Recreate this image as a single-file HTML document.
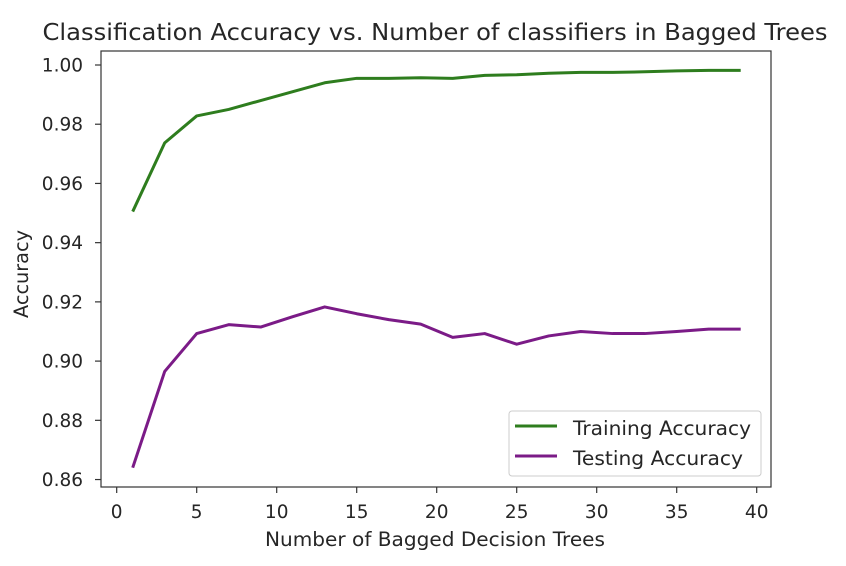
<!DOCTYPE html>
<html><head><meta charset="utf-8"><style>
html,body{margin:0;padding:0;background:#fff;}
svg{display:block;font-family:"DejaVu Sans","Liberation Sans",sans-serif;}
</style></head><body>
<svg id="chart" width="846" height="566" viewBox="0 0 846 566" xmlns="http://www.w3.org/2000/svg">
<text x="435" y="40" font-size="23" fill="#262626" text-anchor="middle" textLength="785" lengthAdjust="spacingAndGlyphs">Classification Accuracy vs. Number of classifiers in Bagged Trees</text>
<g id="marks"></g>
<rect x="101" y="51" width="670" height="436" fill="none" stroke="#333" stroke-width="1.2"/>
<g id="axes"></g>
<text x="435" y="546" font-size="19.5" fill="#262626" text-anchor="middle" textLength="340" lengthAdjust="spacingAndGlyphs">Number of Bagged Decision Trees</text>
<text transform="translate(28,274) rotate(-90)" font-size="19.5" fill="#262626" text-anchor="middle" textLength="88" lengthAdjust="spacingAndGlyphs">Accuracy</text>
<g>
<rect x="509" y="411" width="252" height="65" rx="3" fill="#fff" fill-opacity="0.8" stroke="#ccc" stroke-width="1"/>
<line x1="515" y1="426" x2="557" y2="426" stroke="#2e7d1e" stroke-width="3"/>
<text x="573" y="435" font-size="19.5" fill="#262626" textLength="178" lengthAdjust="spacingAndGlyphs">Training Accuracy</text>
<line x1="515" y1="456" x2="557" y2="456" stroke="#7b1b87" stroke-width="3"/>
<text x="573" y="465" font-size="19.5" fill="#262626" textLength="170" lengthAdjust="spacingAndGlyphs">Testing Accuracy</text>
</g>
</svg>
<script>
const nTrees = [1,3,5,7,9,11,13,15,17,19,21,23,25,27,29,31,33,35,37,39];
const trainAcc = [0.9505,0.9737,0.9828,0.985,0.988,0.991,0.994,0.9955,0.9955,0.9957,0.9955,0.9965,0.9967,0.9972,0.9975,0.9975,0.9977,0.998,0.9982,0.9982];
const testAcc = [0.864,0.8965,0.9093,0.9123,0.9115,0.915,0.9183,0.916,0.914,0.9125,0.908,0.9093,0.9057,0.9085,0.910,0.9093,0.9093,0.910,0.9108,0.9108];
const xTicks = [0,5,10,15,20,25,30,35,40];
const yTicks = [0.86,0.88,0.90,0.92,0.94,0.96,0.98,1.00];
const yTickLabels = ["0.86","0.88","0.90","0.92","0.94","0.96","0.98","1.00"];

const NS = "http://www.w3.org/2000/svg";
function xs(v){ return 116.7 + v * 16; }
function ys(v){ return 65 + (1.0 - v) * 2961; }
const marks = document.getElementById('marks');
const axes = document.getElementById('axes');

function addLine(vals, color, name){
  const p = document.createElementNS(NS, 'polyline');
  p.setAttribute('points', nTrees.map((x,i)=>xs(x).toFixed(2)+','+ys(vals[i]).toFixed(2)).join(' '));
  p.setAttribute('fill','none');
  p.setAttribute('stroke',color);
  p.setAttribute('stroke-width','3');
  p.setAttribute('stroke-linejoin','round');
  
  
  marks.appendChild(p);
}
addLine(trainAcc, '#2e7d1e', 'training-accuracy-line');
addLine(testAcc, '#7b1b87', 'testing-accuracy-line');

xTicks.forEach(t=>{
  const l = document.createElementNS(NS,'line');
  l.setAttribute('x1',xs(t)); l.setAttribute('x2',xs(t));
  l.setAttribute('y1',487); l.setAttribute('y2',493);
  l.setAttribute('stroke','#333'); l.setAttribute('stroke-width','1.2');
  
  
  axes.appendChild(l);
  const tx = document.createElementNS(NS,'text');
  tx.setAttribute('x',xs(t)); tx.setAttribute('y',518);
  tx.setAttribute('font-size','18.5'); tx.setAttribute('fill','#262626');
  tx.setAttribute('text-anchor','middle');
  
  
  tx.textContent = String(t);
  axes.appendChild(tx);
});
yTicks.forEach((t,i)=>{
  const l = document.createElementNS(NS,'line');
  l.setAttribute('x1',95); l.setAttribute('x2',101);
  l.setAttribute('y1',ys(t)); l.setAttribute('y2',ys(t));
  l.setAttribute('stroke','#333'); l.setAttribute('stroke-width','1.2');
  
  
  axes.appendChild(l);
  const tx = document.createElementNS(NS,'text');
  tx.setAttribute('x',83); tx.setAttribute('y',ys(t)+6.5);
  tx.setAttribute('font-size','18.5'); tx.setAttribute('fill','#262626');
  tx.setAttribute('text-anchor','end');
  
  
  tx.textContent = yTickLabels[i];
  axes.appendChild(tx);
});
</script>
</body></html>
